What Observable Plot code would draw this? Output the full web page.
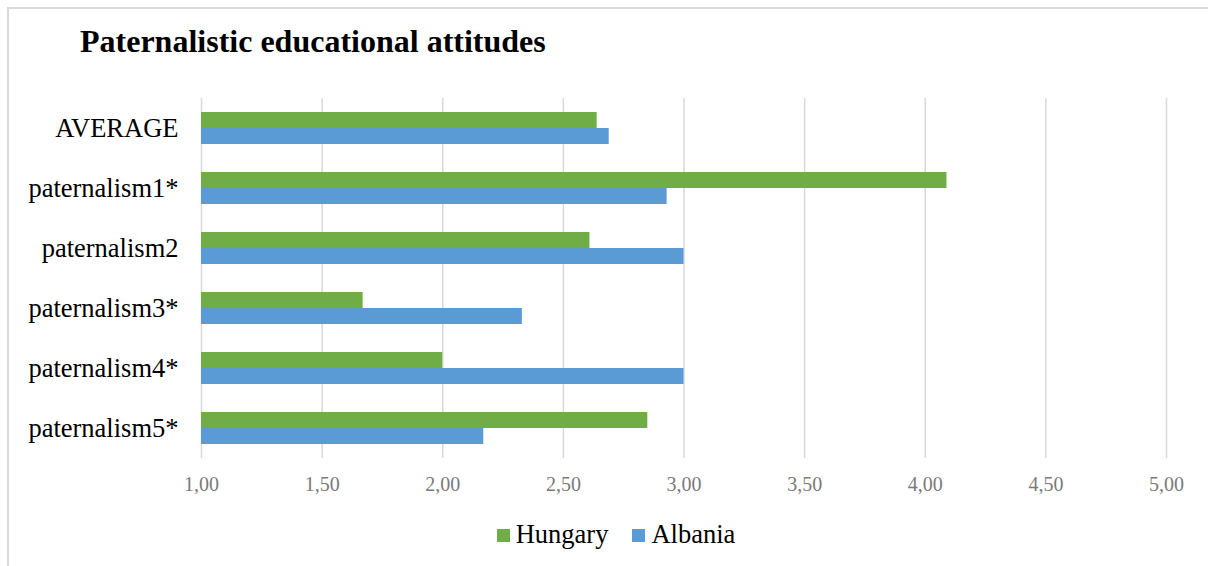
<!DOCTYPE html>
<html>
<head>
<meta charset="utf-8">
<script src="https://cdn.jsdelivr.net/npm/d3@7"></script>
<script src="https://cdn.jsdelivr.net/npm/@observablehq/plot@0.6"></script>
<style>
  html, body { margin: 0; padding: 0; background: #fff; overflow: hidden; }
  #wrap { position: relative; width: 1208px; height: 566px; overflow: hidden; font-family: "Liberation Serif", "Times New Roman", serif; }
  #frame { position: absolute; left: 7px; top: 7px; width: 1400px; height: 800px; border: 2px solid #d9d9d9; box-sizing: border-box; }
  #title { position: absolute; left: 80px; top: 22px; font-size: 32px; font-weight: bold; color: #000; line-height: 38px; white-space: nowrap; }
  #chart { position: absolute; left: 0; top: 0; }
  #chart svg text { font-family: "Liberation Serif", "Times New Roman", serif; }
  #legend { position: absolute; top: 519px; left: 0; width: 1232px; text-align: center; font-size: 26.5px; color: #000; white-space: nowrap; }
  #legend span.item { display: inline-block; margin: 0 12px; }
  #legend span.sw { display: inline-block; width: 13px; height: 13px; margin-right: 6px; vertical-align: 1px; }
</style>
</head>
<body>
<div id="wrap">
  <div id="frame"></div>
  <div id="title">Paternalistic educational attitudes</div>
  <div id="chart"></div>
  <div id="legend"></div>
</div>
<script>
const categories = ["AVERAGE", "paternalism1*", "paternalism2", "paternalism3*", "paternalism4*", "paternalism5*"];
const series = ["Hungary", "Albania"];
const hungary = [2.64, 4.09, 2.61, 1.67, 2.00, 2.85];
const albania = [2.69, 2.93, 3.00, 2.33, 3.00, 2.17];
const xTicks = [1.0, 1.5, 2.0, 2.5, 3.0, 3.5, 4.0, 4.5, 5.0];
const colors = ["#70ad47", "#5b9bd5"];

const rows = [];
categories.forEach((c, i) => {
  rows.push({category: c, series: "Hungary", value: hungary[i]});
  rows.push({category: c, series: "Albania", value: albania[i]});
});

const fmt = d => d.toFixed(2).replace(".", ",");
const serif = "'Liberation Serif', 'Times New Roman', serif";

const chart = Plot.plot({
  width: 1208,
  height: 500,
  marginLeft: 201,
  marginRight: 42,
  marginTop: 98,
  marginBottom: 42,
  style: {fontFamily: serif, background: "transparent", overflow: "visible"},
  x: {domain: [1, 5], ticks: xTicks, tickFormat: fmt, label: null},
  y: {domain: series, axis: null, paddingInner: 0, paddingOuter: 0.875},
  fy: {domain: categories, padding: 0, label: null, axis: null},
  color: {domain: series, range: colors},
  marks: [
    Plot.gridX(xTicks, {stroke: "#d9d9d9", strokeOpacity: 1, strokeWidth: 1.5}),
    Plot.barX(rows, {x1: 1, x2: "value", y: "series", fy: "category", fill: "series"}),
    Plot.axisX(xTicks, {anchor: "bottom", tickSize: 0, tickPadding: 18, tickFormat: fmt, fontSize: 20, fill: "#7a7a7a", label: null}),
    Plot.axisFy({anchor: "left", tickSize: 0, tickPadding: 23, fontSize: 26.5, fill: "#000", label: null})
  ]
});
document.getElementById("chart").appendChild(chart);

const legend = document.getElementById("legend");
series.forEach((s, i) => {
  const item = document.createElement("span");
  item.className = "item";
  const sw = document.createElement("span");
  sw.className = "sw";
  sw.style.background = colors[i];
  item.appendChild(sw);
  item.appendChild(document.createTextNode(s));
  legend.appendChild(item);
});
</script>
</body>
</html>
